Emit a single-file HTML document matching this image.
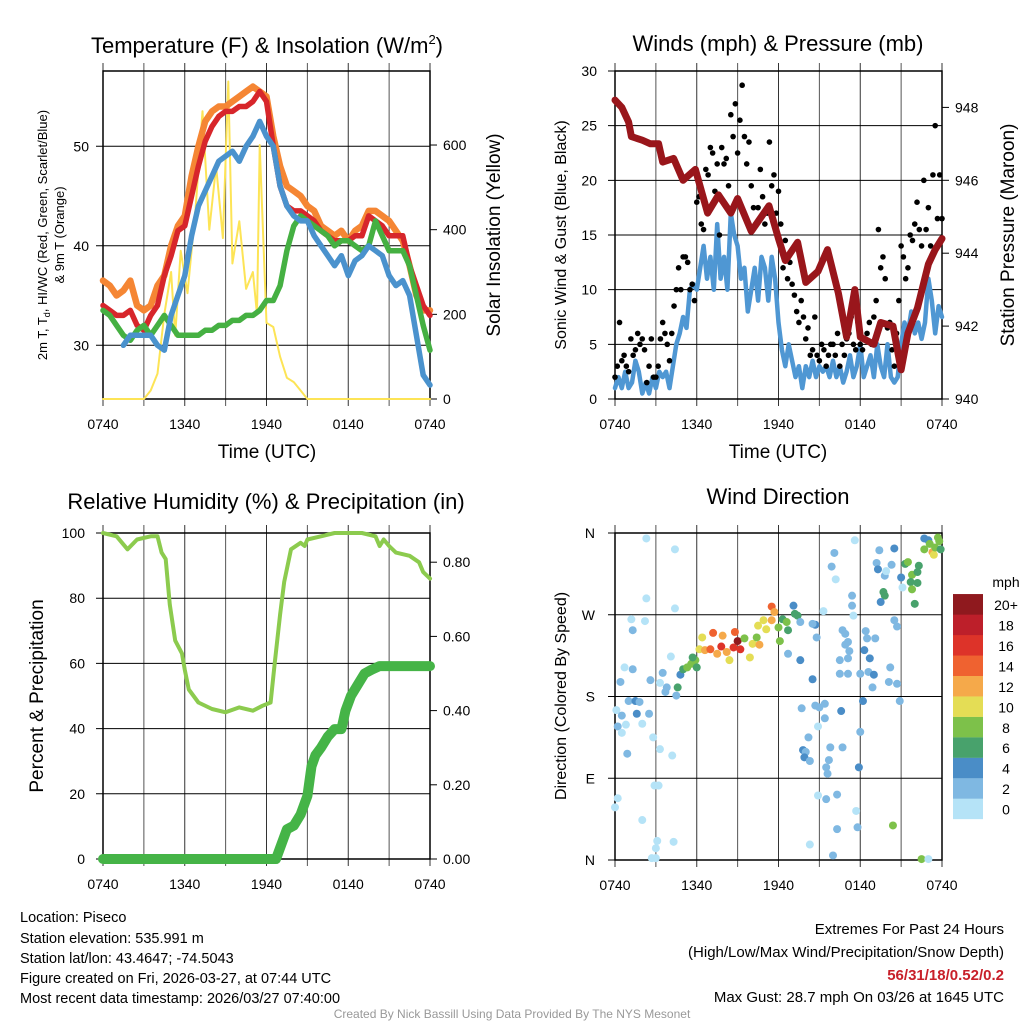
<!DOCTYPE html>
<html><head><meta charset="utf-8"><title>Piseco Mesonet</title>
<style>
html,body{margin:0;padding:0;background:#fff;}
svg{display:block;font-family:"Liberation Sans",Arial,sans-serif;}
</style></head>
<body>
<svg id="fig" width="1024" height="1024" viewBox="0 0 1024 1024" xmlns="http://www.w3.org/2000/svg">
<rect width="1024" height="1024" fill="#fff"/>
<g id="layer"></g>
<g font-size="14.5" fill="#000">
<text x="20" y="922">Location: Piseco</text>
<text x="20" y="943">Station elevation: 535.991 m</text>
<text x="20" y="963">Station lat/lon: 43.4647; -74.5043</text>
<text x="20" y="983">Figure created on Fri, 2026-03-27, at 07:44 UTC</text>
<text x="20" y="1003">Most recent data timestamp: 2026/03/27 07:40:00</text>
</g>
<g font-size="15" text-anchor="end">
<text x="1004" y="934">Extremes For Past 24 Hours</text>
<text x="1004" y="957">(High/Low/Max Wind/Precipitation/Snow Depth)</text>
<text x="1004" y="980" fill="#c8202a" font-weight="bold">56/31/18/0.52/0.2</text>
<text x="1004" y="1002">Max Gust: 28.7 mph On 03/26 at 1645 UTC</text>
</g>
<text x="512" y="1018" font-size="12" fill="#999" text-anchor="middle">Created By Nick Bassill Using Data Provided By The NYS Mesonet</text>
</svg>
<script>
// ---- Temperature panel data (hours since 0740, 0.5 h steps) ----
const temp9m = [36.5,36,35,35.5,36.5,34,33.5,34,36,37,40,42,43,47,50,52.5,53.5,54,54,54.5,55,55.5,56,55.5,55,51,48,46,45.5,45,44,43.5,42,41.5,41,41.5,40.5,41.5,42,43.5,43.5,43,42.5,41.5,40.5,38,35,33.5,33.5];
const temp2m = [34,33.5,33,33,33.5,32,31.5,33,34,37,39,41.5,42,45,48,50.5,52,53,53.5,53.5,54,54,54.5,55.5,54.5,50,46,44,43.5,43.5,43,42.5,41.5,41,40.5,40.5,40.5,41,41,43,42.5,42,41,41,41,38,36,34,33];
const heatIdx = [null,null,null,30,31,31,31,31,30,29.5,33,35,37,41,44,45.5,47,48.5,49,49.5,48.5,50,51,52.5,51,50,46,44,43,42.5,42.5,41,40,39,38,39,37,38.5,39,40,39.5,39,37,36,36.5,35,31,27,26];
const dewpt = [33.5,33,32,31,30.5,31.5,32,31,32,33,32,31,31,31,31,31.5,31.5,32,32,32.5,32.5,33,33,33.5,34.5,34.5,36,39.5,42,43,42.5,42,41.5,41,40,40.5,40.5,40,39.5,40,42.5,41,39.5,39.5,39.5,38,35,32,29.5];
const solarHr = [0,3,3.5,4,4.5,5,5.3,5.7,6.2,6.8,7.3,7.8,8.3,8.8,9.2,9.5,10,10.5,11,11.3,11.5,12,12.5,13,13.5,14,14.5,15,24];
const solar = [0,0,20,60,200,300,150,350,250,450,680,400,550,380,750,320,420,260,300,200,600,180,170,100,50,40,20,0,0];
// ---- Wind panel (wind at 0.25 h steps) ----
const wind = [1,2,1,2.5,1,1.5,3.5,2.5,0.5,1.5,0.5,2,1,2.5,2,2.5,1,3,5,6,7.5,6.5,10,10.5,10,12,14,11,13,10,16,11,13,10,17,15,14,11,12,8,10,12,9,13,12,9,13,11,7,4.5,3,5,3.5,2,3,1,3,2,3.5,2,3,2.5,3,2,3.5,2,3,1.5,2.5,4,2,3,5,2,3,4,2,5,3,2,5,2,1.5,2,5,7,6,8,6,7,5.5,7,11,9,6,8.5,7.5];
const pressHr = [0,0.5,1,1.2,2,2.6,3.2,3.5,4.3,5,5.9,6.8,7.6,8.5,9,10,11.3,12,12.5,13.4,14,14.9,15.6,16.4,17,17.6,18,19,19.5,20.4,21,21.5,22.2,23,23.5,24];
const pressure = [948.2,948,947.6,947.2,947.1,947,947,946.5,946.6,946,946.3,945.1,945.6,945.1,945.5,944.6,945.3,944.4,943.8,944.3,943.2,943.5,944.1,942.9,941.7,943,941.7,941.5,942.1,942,940.8,941.8,942.5,943.7,944.1,944.4];
const gusts = [2,3,7,3.5,4,3,2.5,5.5,4,4.5,6,5,
5.5,4.5,1.5,3,5.5,2,2,3,5.5,7,6,5,
3.5,6,8.5,10,12,10,13,13,12.5,10,10.5,9,
18,18.5,16,15.5,21,20.5,23,22.5,19,21.5,15,23,
21.5,22,19.5,26,24,27,22.5,25.5,28.7,24,21.5,23.5,
19.5,17.5,16,17.5,21,18.5,16,17,23.5,19.5,20.5,17,
19,16,12,14.5,11,12.5,10.5,9.5,8,7,9,7.5,
5.5,6.5,4,4.5,7.5,4,3.5,5,4.5,3,4,5,
5,4,6,3,5,4,5.5,6,7.5,5,4.5,7,
5,4.5,5.5,6,7,5,7.5,9,15.5,12,13,11,
6.5,7,4.5,3,6,9,14,13,11,12,15,14.5,
16,18,15.5,14,20,15.5,17.5,14,20.5,25,16.5,20.5,16.5];
// ---- RH / precip panel ----
const rhHr = [0,1,1.8,2.5,3.5,4,4.3,4.6,4.9,5.3,5.8,6,6.3,7,8,9,10,11,11.7,12.3,12.6,13,13.3,13.8,14.5,14.8,15,16,17,19,20,20.3,20.6,21,21.5,22.5,23.2,23.5,24];
const rh = [100,99,95,98,99,99,94,92,78,67,63,58,52,48,46,45,46.5,45.5,47,48,60,75,85,95,97,96,98,99,100,100,99,96,98,96,94,93,91,88,86];
const precipHr = [0,12.7,13,13.5,14,14.5,15,15.3,15.6,16,16.5,17,17.5,17.8,18.2,18.7,19.2,19.7,20.3,24];
const precip = [0,0,0.03,0.08,0.09,0.12,0.17,0.25,0.28,0.3,0.33,0.35,0.35,0.4,0.44,0.47,0.5,0.51,0.52,0.52];
// ---- Wind direction panel ----
const dirHr = [2.3,4.4,2.3,4.4,1.2,2.2,1.3,4.1,0.7,1.3,0.4,2.6,3.5,3.3,3.8,3.7,4.5,1,1.5,1.8,0.1,0.5,1.6,2.5,2,0.2,0.8,0.5,2.8,0.9,3.3,4.2,2.9,3.2,0.2,0,2,3.1,4.3,3,2.7,3,
4.8,5,4.6,5.3,5.6,5.9,5.7,6,6.2,6.4,6.6,7,7.2,7.5,7.8,7.9,8.2,8.4,8.7,8.8,9,9.2,9.5,9.9,10.1,10.4,10.6,10.5,10.9,11.1,11.5,11.5,11.7,12,12.1,12.3,12.6,12.7,13.1,13.2,13.4,13.6,12.7,13.6,
14.7,14.5,14.8,14.5,15.3,15.9,16.1,16.2,13.7,14.7,15.4,15,16.6,15.4,14.9,14.2,13.8,14,13.9,14.3,15.8,16.7,15.7,15.5,15.6,18,17.9,14.9,15.5,16.3,17.7,17.8,16.3,16,14.3,17.6,17.4,17.4,17.5,16.7,16.9,17.1,16.9,17.2,16.5,17.1,16.5,17.1,18,18.4,18.5,19.1,18.3,18.7,18.6,19,18.9,18.2,
19.4,19.2,19.3,19.8,19.9,20.3,20.5,19.7,19.8,19.5,21,21.1,20.5,20.7,20.2,20.1,20.7,20.9,20.4,21.3,21.5,21.8,22.2,22.3,21.7,21.8,22.2,22,22.7,23,23.1,22.7,23.3,23.4,23.5,23.7,23.9,23.8,22.5,23];
const dirDeg = [354,342,288,277,265,263,253,224,212,210,196,198,206,195,190,185,181,175,175,174,165,159,161,161,150,147,149,140,135,117,122,115,82,82,68,58,44,21,20,13,2,2,
204,210,190,212,216,220,223,212,232,245,231,232,250,227,235,247,229,220,234,251,241,232,244,223,238,245,237,258,264,254,279,264,273,256,241,265,262,253,280,271,269,262,227,220,
259,260,245,199,274,323,338,309,167,170,172,168,164,156,147,135,121,119,113,109,124,124,110,102,95,141,102,71,67,72,54,36,34,5,17,352,291,280,269,253,249,240,237,230,220,222,205,205,205,252,244,244,231,222,207,204,190,175,
341,327,320,313,318,325,343,295,291,284,311,300,264,257,212,196,194,175,38,326,328,314,317,324,306,298,305,282,354,352,348,342,339,336,344,355,342,351,1,1];
const dirSpd = [0,0,0,0,1,0,2,0,0,2,2,2,2,1,2,2,2,3,4,2,1,2,4,3,1,2,1,1,0,2,0,0,0,0,0,0,0,0,0,0,0,0,
4,6,6,8,8,8,6,6,10,10,12,14,14,12,16,12,12,10,16,14,20,16,8,10,10,8,12,10,10,10,14,12,12,8,8,6,8,6,4,6,6,2,2,4,
4,2,2,4,0,2,2,0,2,2,2,2,4,2,0,2,4,2,4,2,2,2,2,2,2,2,4,0,2,2,0,2,2,2,0,0,2,2,0,2,2,2,2,2,2,2,2,2,2,2,2,2,4,4,2,4,2,
4,2,2,4,2,0,2,4,6,6,4,4,0,2,2,2,2,2,2,8,6,8,8,6,6,6,8,6,6,4,4,8,8,12,10,8,8,6,8,8];
const speedBins = ['0','2','4','6','8','10','12','14','16','18','20+'];
const speedColors = ['#b5e3f7','#7fb8e2','#4a8dc7','#48a26c','#7dc14a','#e4dd55','#f5a94a','#ef6230','#dd3329','#bd1f2a','#8f191e'];
const timeTicks = ['0740','1340','1940','0140','0740'];

const NS='http://www.w3.org/2000/svg';
const root=document.getElementById('layer');
function el(tag,parent,attrs){const e=document.createElementNS(NS,tag);for(const k in attrs)e.setAttribute(k,attrs[k]);(parent||root).appendChild(e);return e;}
function txt(parent,x,y,s,size,anchor,extra){const t=el('text',parent,Object.assign({x:x,y:y,'font-size':size,'text-anchor':anchor||'middle'},extra||{}));t.textContent=s;return t;}

function panel(name,x0,x1,y0,y1,yticks,ymap,rticks,rmap){
  const g=el('g',root,{});
  
  
  const grid=el('g',g,{stroke:'#000','stroke-width':1});
  
  
  for(let i=0;i<=8;i++){const x=x0+(x1-x0)*i/8;el('line',grid,{x1:x,x2:x,y1:y0-8,y2:y1+7,stroke:i%2?'#555':'#333'});}
  yticks.forEach(v=>{const y=ymap(v);el('line',grid,{x1:x0-7,x2:x1,y1:y,y2:y});});
  if(rticks) rticks.forEach(v=>{const y=rmap(v);el('line',grid,{x1:x1,x2:x1+7,y1:y,y2:y});});
  el('rect',g,{x:x0,y:y0,width:x1-x0,height:y1-y0,fill:'none',stroke:'#000','stroke-width':1.5});
  const xl=el('g',g,{});
  
  
  timeTicks.forEach((s,i)=>txt(xl,x0+(x1-x0)*i/4,y1+30,s,14));
  return g;
}
function line(g,name,xs,ys,xm,ym,color,w){
  let d='';xs.forEach((h,i)=>{if(ys[i]==null)return;d+=(d?'L':'M')+xm(h).toFixed(1)+','+ym(ys[i]).toFixed(1);});
  const p=el('path',g,{d:d,fill:'none',stroke:color,'stroke-width':w,'stroke-linejoin':'round','stroke-linecap':'round'});
  
  
  return p;
}
const halfHr=temp9m.map((_,i)=>i*0.5);
const quarterHr=wind.map((_,i)=>i*0.25);

// ===== Panel 1: temperature =====
{const x0=103,x1=430,y0=71,y1=399;
 const xm=h=>x0+(x1-x0)*h/24, ym=v=>399-(v-24.6)*9.95, rm=v=>399-v*0.4233;
 const g=panel('temperature-panel',x0,x1,y0,y1,[30,40,50],ym,[0,200,400,600],rm);
 const c=el('g',g,{});
 
 
 line(c,'solar-insolation-line',solarHr,solar,xm,rm,'#fde456',2);
 line(c,'temp-9m-line',halfHr,temp9m,xm,ym,'#f58634',6.5);
 line(c,'temp-2m-line',halfHr,temp2m,xm,ym,'#d7262b',5.5);
 line(c,'dewpoint-line',halfHr,dewpt,xm,ym,'#45b042',5.5);
 line(c,'heat-index-line',halfHr,heatIdx,xm,ym,'#4a92cd',5.5);
 [30,40,50].forEach(v=>txt(g,x0-14,ym(v)+5,String(v),14,'end'));
 [0,200,400,600].forEach(v=>txt(g,x1+13,rm(v)+5,String(v),14,'start'));
 const t=txt(g,267,53,'Temperature (F) & Insolation (W/m',22);const sp=el('tspan',t,{dy:-9,'font-size':13});sp.textContent='2';const sp2=el('tspan',t,{dy:9});sp2.textContent=')';
 
 txt(g,267,458,'Time (UTC)',19);
 const yl=txt(g,0,0,'2m T, T',13,'middle',{transform:'translate(47,235) rotate(-90)'});
 const sb=el('tspan',yl,{dy:3,'font-size':9});sb.textContent='d';const sb2=el('tspan',yl,{dy:-3});sb2.textContent=', HI/WC (Red, Green, Scarlet/Blue)';
 
 txt(g,0,0,'& 9m T (Orange)',13,'middle',{transform:'translate(64,235) rotate(-90)'});
 txt(g,0,0,'Solar Insolation (Yellow)',19,'middle',{transform:'translate(500,235) rotate(-90)'});
}
// ===== Panel 2: winds =====
{const x0=615,x1=942,y0=71,y1=399;
 const xm=h=>x0+(x1-x0)*h/24, ym=v=>399-v*(328/30), rm=v=>399-(v-940)*36.45;
 const g=panel('winds-panel',x0,x1,y0,y1,[0,5,10,15,20,25,30],ym,[940,942,944,946,948],rm);
 const c=el('g',g,{});
 
 
 line(c,'sonic-wind-line',quarterHr,wind,xm,ym,'#4f97d3',4.5);
 gusts.forEach((v,i)=>{const d=el('circle',c,{cx:xm(i*24/(gusts.length-1)),cy:ym(v),r:2.8,fill:'#000'});
  
  });
 line(c,'station-pressure-line',pressHr,pressure,xm,rm,'#99161b',7);
 [0,5,10,15,20,25,30].forEach(v=>txt(g,x0-18,ym(v)+5,String(v),14,'end'));
 [940,942,944,946,948].forEach(v=>txt(g,x1+13,rm(v)+5,String(v),14,'start'));
 txt(g,778,51,'Winds (mph) & Pressure (mb)',22);
 txt(g,778,458,'Time (UTC)',19);
 txt(g,0,0,'Sonic Wind & Gust (Blue, Black)',16,'middle',{transform:'translate(566,235) rotate(-90)'});
 txt(g,0,0,'Station Pressure (Maroon)',19,'middle',{transform:'translate(1014,235) rotate(-90)'});
}
// ===== Panel 3: RH & precip =====
{const x0=103,x1=430,y0=533,y1=859;
 const xm=h=>x0+(x1-x0)*h/24, ym=v=>859-v*3.26, rm=v=>859-v*371;
 const g=panel('humidity-panel',x0,x1,y0,y1,[0,20,40,60,80,100],ym,[0,0.2,0.4,0.6,0.8],rm);
 const c=el('g',g,{});
 
 
 line(c,'relative-humidity-line',rhHr,rh,xm,ym,'#8ccb4e',4);
 line(c,'precipitation-line',precipHr,precip,xm,rm,'#45b447',10);
 [0,20,40,60,80,100].forEach(v=>txt(g,x0-18,ym(v)+5,String(v),14,'end'));
 [0,0.2,0.4,0.6,0.8].forEach(v=>txt(g,x1+13,rm(v)+5,v.toFixed(2),14,'start'));
 txt(g,266,509,'Relative Humidity (%) & Precipitation (in)',22);
 txt(g,0,0,'Percent & Precipitation',19,'middle',{transform:'translate(43,696) rotate(-90)'});
}
// ===== Panel 4: wind direction =====
{const x0=615,x1=942,y0=533,y1=860;
 const xm=h=>x0+(x1-x0)*h/24, ym=v=>860-v*(327/360);
 const g=panel('wind-direction-panel',x0,x1,y0,y1,[0,90,180,270,360],ym,null,null);
 const c=el('g',g,{});
 
 
 dirHr.forEach((h,i)=>{const bin=Math.min(10,Math.floor((dirSpd[i]||0)/2));
  const d=el('circle',c,{cx:xm(h),cy:ym(dirDeg[i]),r:4,fill:speedColors[bin]});
  
  });
 ['N','E','S','W','N'].forEach((s,i)=>txt(g,x0-20,ym(i*90)+5,s,14,'end'));
 txt(g,778,504,'Wind Direction',22);
 txt(g,0,0,'Direction (Colored By Speed)',16,'middle',{transform:'translate(566,696) rotate(-90)'});
 const lg=el('g',root,{});
 
 
 speedColors.forEach((col,i)=>{const y=819-(i+1)*20.45;
  const r=el('rect',lg,{x:953,y:y,width:30,height:20.6,fill:col});
  
  
  txt(lg,1006,y+16,speedBins[i],14);});
 txt(lg,1006,587,'mph',14);
}
</script>
</body></html>
